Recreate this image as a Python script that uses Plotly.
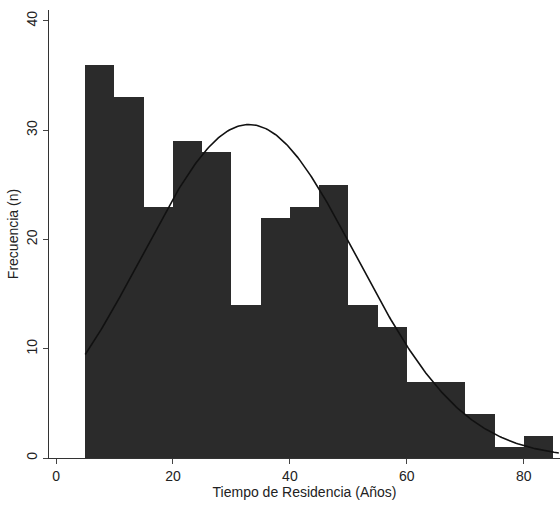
import numpy as np
import plotly.graph_objects as go

# Histogram data (bin width 5 years, starting at 5)
bin_starts = [5, 10, 15, 20, 25, 30, 35, 40, 45, 50, 55, 60, 65, 70, 75, 80]
counts = [36, 33, 23, 29, 28, 14, 22, 23, 25, 14, 12, 7, 7, 4, 1, 2]
bin_width = 5

# Fitted normal curve parameters
curve_mean = 33.0
curve_sd = 18.3
n_total = sum(counts)

x_ticks = [0, 20, 40, 60, 80]
y_ticks = [0, 10, 20, 30, 40]

mids = [s + bin_width / 2 for s in bin_starts]
xc = np.linspace(5, 86, 300)
yc = n_total * bin_width / (curve_sd * np.sqrt(2 * np.pi)) * np.exp(-0.5 * ((xc - curve_mean) / curve_sd) ** 2)

fig = go.Figure()
fig.add_trace(go.Bar(
    x=mids, y=counts, width=bin_width,
    marker=dict(color="#2b2b2b", line=dict(color="#2b2b2b", width=0)),
    showlegend=False,
))
fig.add_trace(go.Scatter(
    x=xc, y=yc, mode="lines",
    line=dict(color="#111111", width=1.6),
    showlegend=False,
))

font = dict(family="Liberation Sans, Arial, sans-serif", size=14, color="#222222")
fig.update_layout(
    width=560, height=514,
    margin=dict(l=49, r=0, t=10, b=56),
    paper_bgcolor="white", plot_bgcolor="white",
    font=font,
    bargap=0,
    xaxis=dict(
        range=[-1.2, 86.2], tickvals=x_ticks, ticks="outside", ticklen=5,
        showline=True, linecolor="#333333", linewidth=1, showgrid=False, zeroline=False,
        title=dict(text="Tiempo de Residencia (Años)", standoff=4, font=font),
        tickfont=font,
    ),
    yaxis=dict(
        range=[0, 41], tickvals=y_ticks, ticks="outside", ticklen=5, tickangle=-90,
        showline=True, linecolor="#333333", linewidth=1, showgrid=False, zeroline=False,
        title=dict(text="Frecuencia (n)", standoff=2, font=font),
        tickfont=font,
    ),
)

fig.write_html("out.html")
